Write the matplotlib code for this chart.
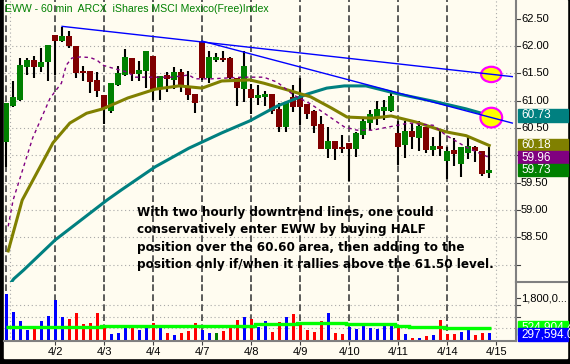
import matplotlib.pyplot as plt
from matplotlib.patches import Rectangle, Ellipse
from matplotlib.lines import Line2D
from matplotlib.transforms import blended_transform_factory as blend

plt.rcParams['font.family'] = ['Liberation Sans', 'DejaVu Sans']

# EWW 60 min bars, 4/1 .. 4/14, seven bars per session
opens = [60.25, 60.90, 61.01, 61.62, 61.74, 61.62, 61.70,
         62.20, 62.10, 62.18, 62.00, 61.54, 61.54, 61.38,
         61.10, 60.81, 61.29, 61.47, 61.78, 61.49, 61.54,
         61.82, 61.21, 61.47, 61.38, 61.52, 61.25, 61.12,
         62.08, 61.42, 61.74, 61.78, 61.78, 61.42, 61.21,
         61.21, 61.04, 61.07, 61.13, 60.84, 60.52, 61.07,
         61.07, 60.93, 60.81, 60.58, 60.12, 60.26, 60.15,
         60.23, 60.12, 60.38, 60.60, 60.70, 60.81, 60.82,
         60.40, 60.18, 60.45, 60.32, 60.52, 60.10, 60.17,
         59.90, 60.10, 59.84, 60.04, 60.15, 60.07, 59.67]
highs = [60.96, 61.36, 61.78, 61.78, 61.82, 61.96, 62.02,
         62.20, 62.35, 62.27, 62.00, 61.63, 61.54, 61.52,
         61.10, 61.32, 61.63, 61.95, 61.78, 61.73, 61.91,
         61.82, 61.45, 61.52, 61.62, 61.58, 61.54, 61.12,
         62.10, 61.91, 61.87, 61.91, 61.80, 61.42, 61.91,
         61.30, 61.29, 61.18, 61.13, 60.95, 60.98, 61.29,
         61.41, 60.93, 60.83, 60.72, 60.51, 60.26, 60.37,
         60.23, 60.42, 60.66, 60.83, 60.99, 61.02, 61.16,
         60.62, 60.62, 60.60, 60.62, 60.52, 60.33, 60.46,
         60.16, 60.31, 60.15, 60.33, 60.17, 60.07, 60.15]
lows = [59.79, 60.89, 61.00, 61.47, 61.41, 61.52, 61.36,
        61.47, 62.07, 61.96, 61.41, 61.36, 61.14, 61.07,
        60.58, 60.78, 61.27, 61.45, 61.36, 61.36, 61.23,
        61.01, 61.01, 61.16, 61.21, 61.16, 61.01, 60.77,
        61.38, 61.32, 61.71, 61.71, 61.40, 60.90, 60.97,
        60.76, 60.92, 60.90, 60.76, 60.42, 60.43, 60.79,
        60.55, 60.67, 60.41, 60.11, 59.96, 59.92, 60.05,
        59.53, 59.97, 60.30, 60.46, 60.56, 60.65, 60.80,
        59.82, 59.96, 60.11, 60.08, 60.05, 59.99, 59.98,
        59.56, 59.80, 59.61, 59.94, 59.88, 59.62, 59.58]
closes = [60.95, 61.07, 61.65, 61.74, 61.62, 61.71, 62.02,
          62.10, 62.18, 62.00, 61.51, 61.51, 61.35, 61.18,
          60.84, 61.32, 61.51, 61.80, 61.49, 61.56, 61.91,
          61.20, 61.45, 61.40, 61.52, 61.25, 61.10, 60.96,
          61.42, 61.80, 61.80, 61.74, 61.42, 61.23, 61.63,
          61.05, 61.10, 61.13, 60.82, 60.52, 60.98, 60.89,
          60.89, 60.76, 60.54, 60.11, 60.26, 60.12, 60.11,
          60.12, 60.41, 60.62, 60.76, 60.85, 60.88, 61.08,
          60.16, 60.44, 60.33, 60.53, 60.10, 60.17, 60.12,
          60.07, 60.03, 60.15, 60.17, 60.07, 59.66, 59.73]

# volume in millions of shares; u = up, d = down, n = unchanged
volume_m = [1.97, 1.20, 0.82, 0.43, 0.56, 0.82, 1.03,
            1.72, 0.99, 0.90, 1.16, 0.69, 0.73, 1.16,
            0.56, 0.26, 0.30, 0.64, 0.52, 0.43, 0.52,
            0.73, 0.60, 0.30, 0.21, 0.30, 0.39, 0.73,
            0.43, 0.30, 0.30, 0.39, 0.52, 0.86, 0.99,
            0.90, 0.56, 0.82, 0.34, 0.77, 0.99, 1.12,
            0.69, 0.43, 0.34, 0.82, 1.16, 0.30, 0.26,
            0.56, 0.47, 0.73, 0.52, 0.47, 0.60, 0.73,
            0.56, 0.26, 0.09, 0.09, 0.17, 0.21, 0.86,
            0.26, 0.26, 0.34, 0.43, 0.21, 0.30, 0.30]
vol_dir = ("uuuuduu" "uuddddd" "duuuduu" "dududdd" "uundddu"
           "duuddud" "ddddudd" "uuuuuuu" "dududud" "dduudd" "u")

# volume average (stepped), start bar of each step
vol_avg_start = [0, 7, 14, 36, 42, 49, 56, 58, 63]
vol_avg = [0.56, 0.57, 0.61, 0.67, 0.72, 0.67, 0.61, 0.57, 0.53]
vol_avg_end = 69.3

# moving averages (bar, price)
fast_bar = [0.3, 1.0, 3.8, 6.3, 7.9, 8.6, 9.4, 10.6, 12.0, 13.0, 13.8, 14.8, 17.4,
            18.4, 20.4, 23.7, 26.1, 27.0, 29.4, 33.7, 36.8, 38.7, 41.1, 43.5,
            45.8, 48.3, 50.1, 52.3, 57.5, 61.0, 62.8, 65.7, 69.0]
fast_ma = [58.70, 59.18, 60.32, 61.05, 61.32, 61.65, 61.78, 61.80, 61.79, 61.74, 61.65,
           61.61, 61.52, 61.43, 61.43, 61.43, 61.47, 61.40, 61.40, 61.43, 61.43,
           61.34, 61.10, 60.94, 60.74, 60.52, 60.46, 60.46, 60.59, 60.55, 60.37,
           60.15, 59.96]
mid_bar = [0.3, 2.3, 6.7, 9.1, 11.5, 13.8, 17.4, 21.3, 24.7, 28.0, 30.8, 34.8, 36.8,
           40.1, 43.5, 46.4, 48.7, 52.3, 55.0, 58.5, 62.8, 65.7, 69.0]
mid_ma = [58.25, 59.18, 60.23, 60.59, 60.77, 60.85, 61.05, 61.21, 61.27, 61.23, 61.36,
          61.38, 61.32, 61.20, 61.07, 60.87, 60.70, 60.68, 60.72, 60.61, 60.43,
          60.36, 60.18]
slow_bar = [0.3, 1.1, 2.5, 7.0, 14.4, 16.5, 21.3, 26.1, 30.8, 34.8, 38.7, 43.0, 45.8,
            48.3, 51.4, 56.1, 61.0, 65.7, 69.0]
slow_ma = [57.60, 57.74, 57.90, 58.45, 59.18, 59.37, 59.79, 60.13, 60.41, 60.63, 60.90,
           61.12, 61.23, 61.27, 61.27, 61.12, 60.99, 60.85, 60.73]

# hand-drawn downtrend lines and marked breakout points
trend_bars = [[8, 72.3], [28, 72.3]]
trend_prices = [[62.36, 61.44], [62.09, 60.59]]
mark_bar = [69.3, 69.3]
mark_price = [61.48, 60.69]

day_labels = ["4/2", "4/3", "4/4", "4/7", "4/8", "4/9", "4/10", "4/11", "4/14", "4/15"]
bars_per_day = 7
price_ticks = [62.5, 62.0, 61.5, 61.0, 60.5, 60.0, 59.5, 59.0, 58.5]

note = ["With two hourly downtrend lines, one could",
        "conservatively enter EWW by buying HALF",
        "position over the 60.60 area, then adding to the",
        "position only if/when it rallies above the 61.50 level."]

CREAM = '#FFFCF0'
GRID = '#A8A8A8'
AXIS = '#808080'
W, H = 570, 364


def fx(px):
    return px / W


def fy(py):
    return 1 - py / H


fig = plt.figure(figsize=(W / 100, H / 100), dpi=100, facecolor='black')
fig.patches.append(Rectangle((fx(4), fy(358)), fx(563), 358 / H,
                             transform=fig.transFigure, color=CREAM, zorder=-5))

ax = fig.add_axes([fx(4), fy(282), fx(512), 282 / H])
axv = fig.add_axes([fx(4), fy(341), fx(512), 59 / H])
for a in (ax, axv):
    a.set_facecolor('none')
    a.set_xlim(-0.3, 72.83)
    for s in ('top', 'left', 'bottom'):
        a.spines[s].set_visible(False)
    a.spines['right'].set_color(AXIS)
    a.spines['right'].set_linewidth(1.5)
axv.spines['bottom'].set_visible(True)
axv.spines['bottom'].set_color(AXIS)
axv.spines['bottom'].set_linewidth(1.5)
ax.set_ylim(57.682, 62.842)
axv.set_ylim(-0.043, 2.489)
ax.tick_params(left=False, bottom=False, right=False, labelleft=False, labelbottom=False)
axv.tick_params(left=False, right=False, labelleft=False)

# grid
for p in [58.0, 58.5, 59.0, 59.5, 60.0, 60.5, 61.0, 61.5, 62.0]:
    ax.axhline(p, color=GRID, lw=0.8, ls=(0, (1, 2.5)), zorder=1)
for v in [0.5, 1.0, 1.5]:
    axv.axhline(v, color=GRID, lw=0.8, ls=(0, (1, 2.5)), zorder=1)
for a in (ax, axv):
    a.axvline(0.55, color=GRID, lw=0.8, ls=(0, (1, 2.5)), zorder=1)
    a.axvline(0, color='#404040', lw=1.2, ls=(0, (4, 2)), zorder=2)
    for k in range(1, len(day_labels)):
        a.axvline(k * bars_per_day, color='#404040', lw=1.2, ls=(0, (4, 2)), zorder=2)
    a.axvline(len(day_labels) * bars_per_day, color=GRID, lw=0.8, ls=(0, (1, 2.5)), zorder=1)

# candles
for i in range(len(closes)):
    up = closes[i] >= opens[i]
    lo, hi = min(opens[i], closes[i]), max(opens[i], closes[i])
    ax.vlines(i, lows[i], highs[i], color='black', lw=1.5, zorder=3)
    ax.bar(i, max(hi - lo, 0.035), bottom=lo, width=0.8,
           color='#008000' if up else '#800000', zorder=4)

# moving averages
ax.plot(slow_bar, slow_ma, color='#008080', lw=2.2, zorder=5)
ax.plot(mid_bar, mid_ma, color='#808000', lw=2.2, zorder=5)
ax.plot(fast_bar, fast_ma, color='#800080', lw=1.0, ls=(0, (2.5, 2.5)), zorder=5)

# breakout marks and trend lines
for b, p, w, h in zip(mark_bar, mark_price, [2.9, 3.1], [0.28, 0.36]):
    ax.add_patch(Ellipse((b, p), w, h, facecolor='#FFFF00', edgecolor='#FF00FF',
                         lw=1.6, zorder=6))
for tb, tp in zip(trend_bars, trend_prices):
    ax.plot(tb, tp, color='#0000FF', lw=1.0, zorder=7)

# volume
vcol = {'u': '#0000FF', 'd': '#FF0000', 'n': '#008000'}
axv.bar(range(len(volume_m)), volume_m, width=0.43,
        color=[vcol[c] for c in vol_dir], zorder=3)
axv.stairs(vol_avg, [s - 0.5 if s else 0 for s in vol_avg_start] + [vol_avg_end],
           baseline=None, color='#00FF00', lw=2.4, zorder=4)

# date axis
axv.set_xticks([k * bars_per_day for k in range(1, len(day_labels) + 1)])
axv.set_xticklabels(day_labels)
axv.tick_params(axis='x', colors='#404040', length=3, width=0.8, pad=1.5,
                labelsize=8, labelcolor='black')

# right price scale
tr = blend(ax.transAxes, ax.transData)
for p in price_ticks + [58.0]:
    ax.plot([1.0, 1.0 + 4 / 512], [p, p], transform=tr, color='#404040', lw=0.8,
            clip_on=False)
for p in price_ticks:
    ax.text(1.0 + 5 / 512, p, f"{p:.2f}", transform=tr, fontsize=8, va='center',
            ha='left', clip_on=False)

hh = 6.4 / 54.65
for val, col in [(slow_ma[-1], '#008080'), (mid_ma[-1], '#808000'),
                 (fast_ma[-1], '#800080'), (closes[-1], '#008000')]:
    ax.add_patch(Rectangle((1.0 + 1.5 / 512, val - hh), 50 / 512, 2 * hh, transform=tr,
                           color=col, clip_on=False, zorder=10))
    ax.text(1.0 + 5 / 512, val, f"{val:.2f}", transform=tr, fontsize=8.5, color='white',
            va='center', ha='left', clip_on=False, zorder=11)

trv = blend(axv.transAxes, axv.transData)
for v in [1.8, 1.5, 1.0]:
    axv.plot([1.0, 1.0 + 4 / 512], [v, v], transform=trv, color='#404040', lw=0.8,
             clip_on=False)
axv.text(1.0 + 5 / 512, 1.8, "1,800,0...", transform=trv, fontsize=8, va='center',
         ha='left', clip_on=False)
axv.add_patch(Rectangle((1.0 + 1.5 / 512, 6 / 59), 50 / 512, 14 / 59,
                        transform=axv.transAxes, color='#00FF00', clip_on=False, zorder=10))
axv.text(1.0 + 5 / 512, 14 / 59, "524,904.4", transform=axv.transAxes, fontsize=8.5,
         color='white', va='center', ha='left', clip_on=False, zorder=11)
axv.add_patch(Rectangle((1.0 + 1.5 / 512, 0), 50 / 512, 13 / 59,
                        transform=axv.transAxes, color='#0000FF', clip_on=False, zorder=12))
axv.text(1.0 + 5 / 512, 6.5 / 59, "297,594.0", transform=axv.transAxes, fontsize=8.5,
         color='white', va='center', ha='left', clip_on=False, zorder=13)

fig.add_artist(Line2D([fx(516), fx(567)], [fy(282), fy(282)], color=AXIS, lw=1.5))

# title and comment
fig.text(fx(5), fy(9), "EWW - 60 min  ARCX  iShares MSCI Mexico(Free)Index",
         color='#008000', fontsize=7.6, va='center', ha='left')
for j, line in enumerate(note):
    fig.text(fx(137), fy(212 + 17.6 * j), line, fontsize=8.65, fontweight='bold',
             family='DejaVu Sans', va='center', ha='left', color='black')

fig.savefig('out.png', dpi=100, facecolor='black')
